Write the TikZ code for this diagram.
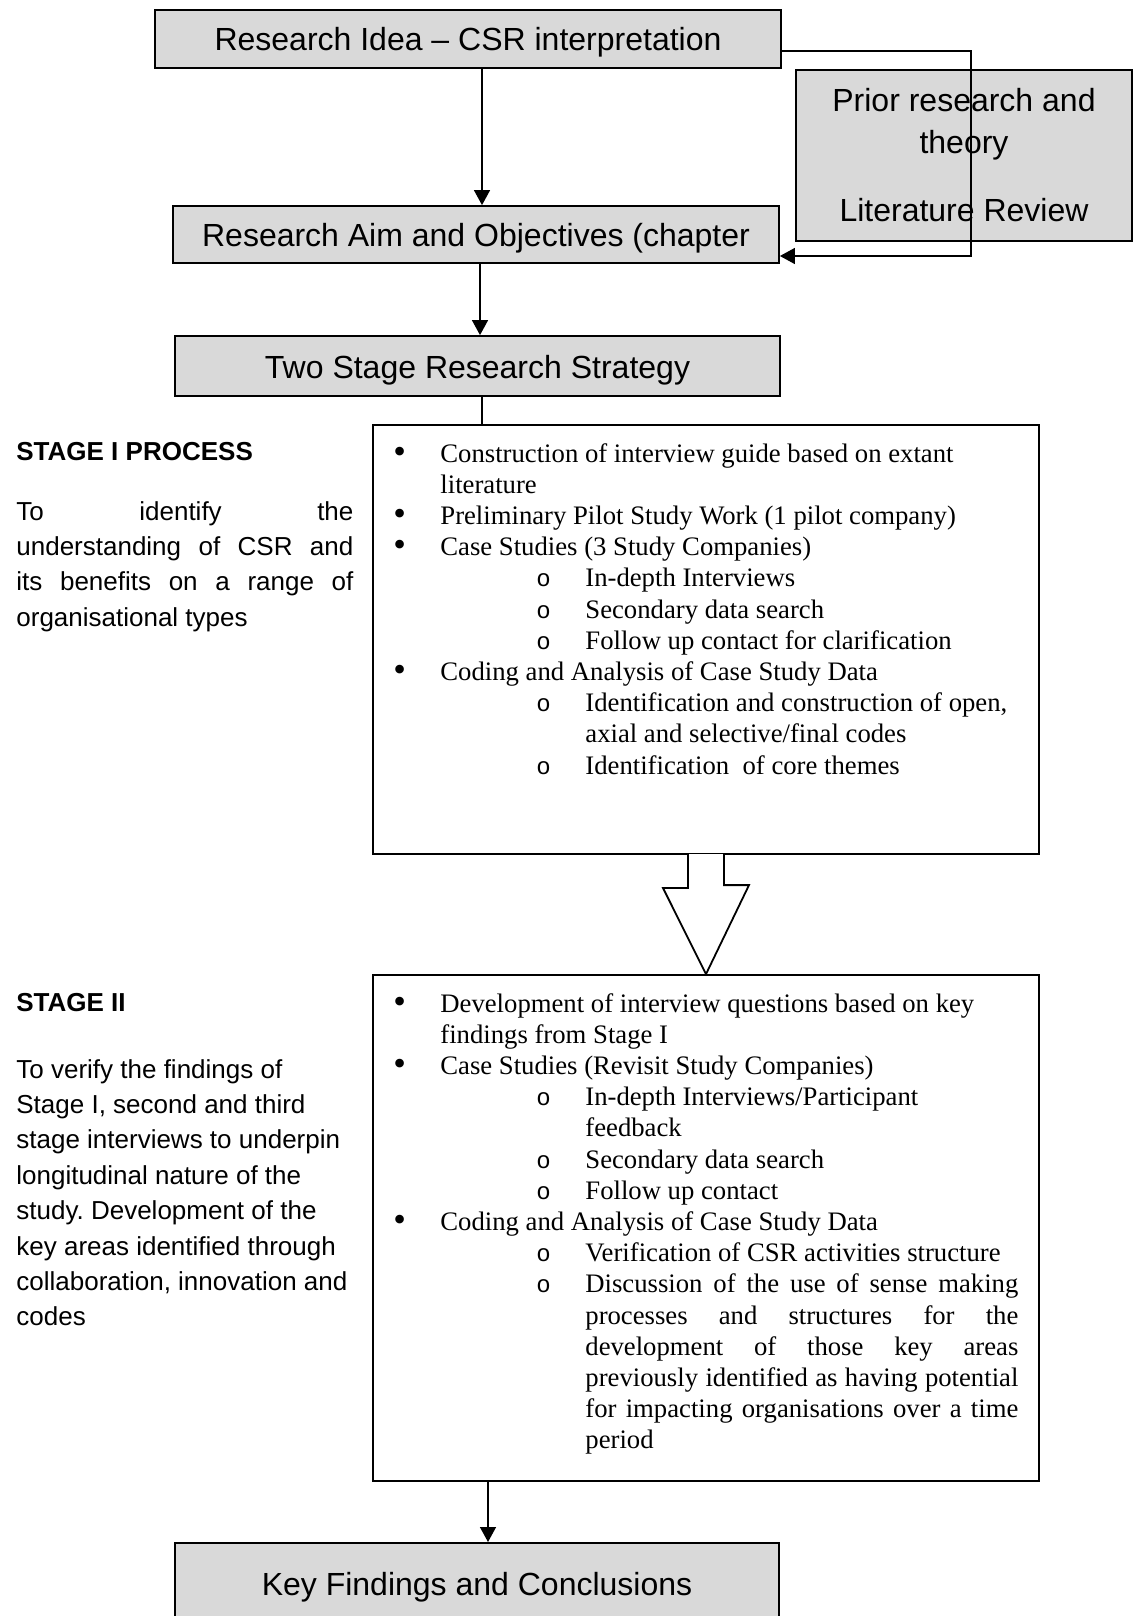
\documentclass[tikz,border=0pt]{standalone}
\usepackage{fontspec}
\setmainfont{Liberation Serif}
\newfontfamily\arialfont{Liberation Sans}
\newfontfamily\monofont{Liberation Mono}
\usetikzlibrary{arrows.meta,positioning,calc,shadows}

\definecolor{boxgrey}{RGB}{217,217,217}
\hbadness=10000
\tolerance=9999
\frenchspacing

% list lines: bullet and sub-bullet with hanging indent
\newcommand{\bigdot}{\raisebox{-0.5pt}{\scalebox{1.35}{\textbullet}}}
\newcommand{\smallring}{{\monofont\fontsize{12pt}{12pt}\selectfont o}}
\newcommand{\bpoint}[1]{\par\hangindent=33.5pt\hangafter=1\noindent\hbox to 33.5pt{\hskip10pt\bigdot\hfil}#1}
\newcommand{\spoint}[1]{\par\hangindent=106pt\hangafter=1\noindent\hbox to 106pt{\hskip81.5pt\smallring\hfil}#1}

\tikzset{
  greybox/.style={draw, fill=boxgrey, line width=0.9pt, inner sep=0pt, font=\arialfont\fontsize{16pt}{21pt}\selectfont,
    drop shadow={shadow xshift=0.7pt, shadow yshift=-0.7pt, opacity=1, fill=black}},
  titlebox/.style={greybox, text height=12pt, text depth=0pt},
  stagebox/.style={draw, fill=white, line width=0.9pt, minimum width=333pt,
    drop shadow={shadow xshift=0.7pt, shadow yshift=-0.7pt, opacity=1, fill=black}},
  listtext/.style={inner sep=0pt, anchor=base west, font=\fontsize{13.35pt}{15.6pt}\selectfont},
  sidetext/.style={inner sep=0pt, anchor=base west, font=\arialfont\fontsize{13pt}{17.7pt}\selectfont},
  sidehead/.style={sidetext, font=\arialfont\bfseries\fontsize{13pt}{17.7pt}\selectfont},
  flowarrow/.style={-{Triangle[length=7.5pt,width=8pt]}, line width=0.7pt},
  blockarrow/.style={line width=0.9pt, fill=white},
}

\begin{document}
\begin{tikzpicture}[x=0.5pt,y=-0.5pt]
    \useasboundingbox (0,0) rectangle (1136,1616);
    \clip (0,0) rectangle (1136,1616);

    % Top boxes
    \node[titlebox, minimum width=313pt, minimum height=29pt] (idea) at (468,39) {Research Idea – CSR interpretation};
    \node[greybox, minimum width=168pt, minimum height=85.5pt, align=center] (prior) at (964,155.5) {Prior research and\\theory\\[13pt]Literature Review};
    \node[titlebox, minimum width=303pt, minimum height=28.5pt] (aim) at (476,234.5) {Research Aim and Objectives (chapter};
    \node[titlebox, minimum width=302.5pt, minimum height=30pt] (strategy) at (477.5,366) {Two Stage Research Strategy};

    % Stage boxes
    \node[stagebox, minimum height=214.5pt] (stageone) at (706,639.5) {};
    \node[stagebox, minimum height=253pt] (stagetwo) at (706,1228) {};

    % Bottom box
    \node[greybox, minimum width=302pt, minimum height=70pt, anchor=north] (findings) at (477,1542) {};
    \node[font=\arialfont\fontsize{16pt}{21pt}\selectfont, text height=12pt, text depth=0pt, inner sep=0pt] (findingstext) at (477,1583) {Key Findings and Conclusions};

    % Left side texts
    \node[sidehead] (stageonehead) at (16,460) {STAGE I PROCESS};
    \node[sidetext] (stageoneaim) at (16,520) {\begin{minipage}[t]{168.5pt}To identify the\linebreak understanding of CSR and\linebreak its benefits on a range of\linebreak organisational types\end{minipage}};
    \node[sidehead] (stagetwohead) at (16,1011) {STAGE II};
    \node[sidetext] (stagetwoaim) at (16,1078) {\begin{minipage}[t]{172pt}\raggedright To verify the findings of\\Stage I, second and third\\stage interviews to underpin\\longitudinal nature of the\\study. Development of the\\key areas identified through\\collaboration, innovation and\\codes\end{minipage}};

    % Lists
    \node[listtext] (stageonelist) at (373,462) {\begin{minipage}[t]{322.5pt}%
      \bpoint{Construction of interview guide based on extant\\literature}
      \bpoint{Preliminary Pilot Study Work (1 pilot company)}
      \bpoint{Case Studies (3 Study Companies)}
      \spoint{In-depth Interviews}
      \spoint{Secondary data search}
      \spoint{Follow up contact for clarification}
      \bpoint{Coding and Analysis of Case Study Data}
      \spoint{Identification and construction of open,\\axial and selective/final codes}
      \spoint{Identification\ \ of core themes}\end{minipage}};
    \node[listtext] (stagetwolist) at (373,1012) {\begin{minipage}[t]{322.5pt}%
      \bpoint{Development of interview questions based on key\\findings from Stage I}
      \bpoint{Case Studies (Revisit Study Companies)}
      \spoint{In-depth Interviews/Participant\\feedback}
      \spoint{Secondary data search}
      \spoint{Follow up contact}
      \bpoint{Coding and Analysis of Case Study Data}
      \spoint{Verification of CSR activities structure}
      \spoint{Discussion of the use of sense making\linebreak processes and structures for the\linebreak development of those key areas\linebreak previously identified as having potential\linebreak for impacting organisations over a time\linebreak period}\end{minipage}};

    % Connectors
    \draw[flowarrow] ([xshift=7pt]idea.south) -- ([xshift=7pt]idea.south |- aim.north);
    \draw[flowarrow] ([yshift=-6pt]idea.east) -| ([xshift=3.5pt]prior.center) |- ([yshift=-10.75pt]aim.east);
    \draw[flowarrow] ([xshift=2pt]aim.south) -- ([xshift=2pt]aim.south |- strategy.north);
    \draw[line width=0.7pt] ([xshift=2.25pt]strategy.south) -- ([xshift=2.25pt]strategy.south |- stageone.north);
    \draw[blockarrow] ([xshift=-9pt,yshift=0.45pt]stageone.south) -- ++(0,34) -- ++(-25,0) -- (stagetwo.north) -- ++(43,-89) -- ++(-25,0) -- ([xshift=9pt,yshift=0.45pt]stageone.south);
    \draw[flowarrow] ([xshift=5.5pt]findings.north |- stagetwo.south) -- ([xshift=5.5pt]findings.north);
\end{tikzpicture}
\end{document}
